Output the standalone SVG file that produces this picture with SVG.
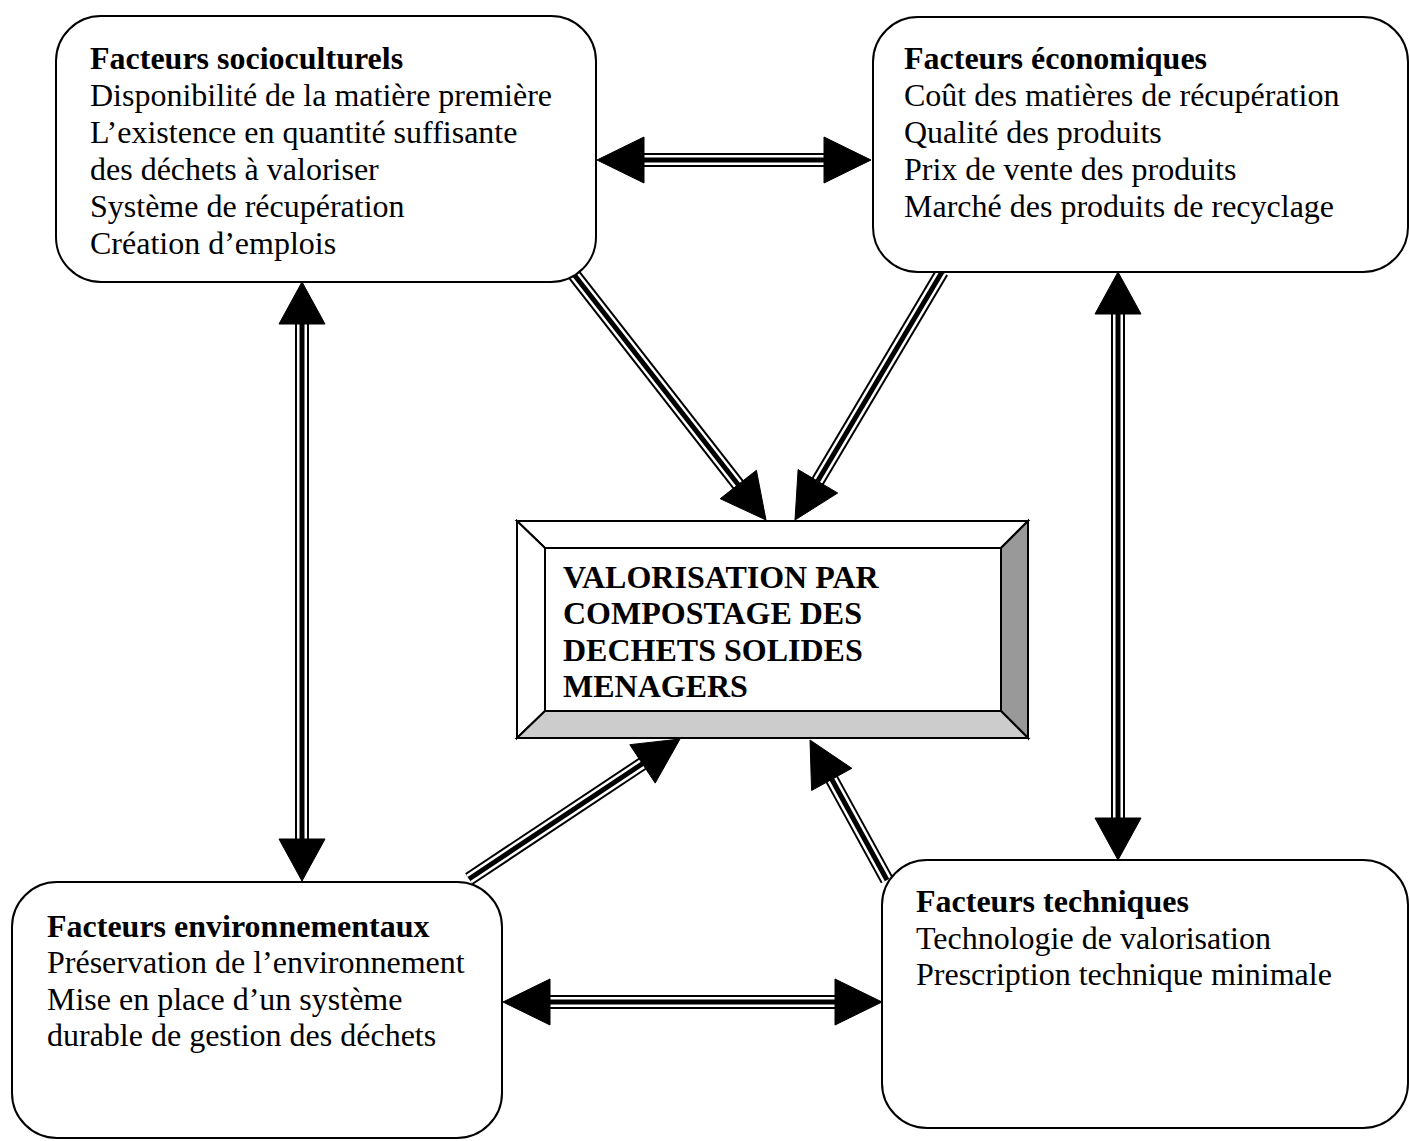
<svg xmlns="http://www.w3.org/2000/svg" width="1410" height="1141" viewBox="0 0 1410 1141">
<style>
.box{fill:#fff;stroke:#000;stroke-width:2}
.t{font-family:"Liberation Serif","Times New Roman",serif;font-size:32px;fill:#000}
.b{font-weight:bold}
.o{stroke:#000;stroke-width:14;fill:none}
.w{stroke:#fff;stroke-width:10;fill:none}
.c{stroke:#000;stroke-width:5;fill:none}
.h{fill:#000;stroke:#000;stroke-width:1}
.bev{stroke:#000;stroke-width:2;stroke-linejoin:miter}
</style>
<rect width="1410" height="1141" fill="#fff"/>
<g id="connectors">
  <!-- top horizontal -->
  <g><path class="o" d="M640 160H828"/><path class="w" d="M640 160H828"/><path class="c" d="M640 160H828"/>
  <polygon class="h" points="597,160 644,137 644,183"/><polygon class="h" points="871,160 824,137 824,183"/></g>
  <!-- bottom horizontal -->
  <g><path class="o" d="M546 1002H840"/><path class="w" d="M546 1002H840"/><path class="c" d="M546 1002H840"/>
  <polygon class="h" points="503,1002 550,979 550,1025"/><polygon class="h" points="882,1002 835,979 835,1025"/></g>
  <!-- left vertical -->
  <g><path class="o" d="M302 320V842"/><path class="w" d="M302 320V842"/><path class="c" d="M302 320V842"/>
  <polygon class="h" points="302,282 279,324 325,324"/><polygon class="h" points="302,881 279,839 325,839"/></g>
  <!-- right vertical -->
  <g><path class="o" d="M1118 310V822"/><path class="w" d="M1118 310V822"/><path class="c" d="M1118 310V822"/>
  <polygon class="h" points="1118,272 1095,314 1141,314"/><polygon class="h" points="1118,860 1095,818 1141,818"/></g>
  <!-- A1 -->
  <g><path class="o" d="M572 272L740 487"/><path class="w" d="M572 272L740 487"/><path class="c" d="M572 272L740 487"/>
  <polygon class="h" points="766,520 720.2,498.7 756.4,470.3"/></g>
  <!-- A2 -->
  <g><path class="o" d="M942 272L816 484"/><path class="w" d="M942 272L816 484"/><path class="c" d="M942 272L816 484"/>
  <polygon class="h" points="795,520 837.7,493 798.1,469.6"/></g>
  <!-- A3 -->
  <g><path class="o" d="M469 879L645 762"/><path class="w" d="M469 879L645 762"/><path class="c" d="M469 879L645 762"/>
  <polygon class="h" points="680,739 655.2,783.1 629.8,744.7"/></g>
  <!-- A4 -->
  <g><path class="o" d="M887 880L830 776"/><path class="w" d="M887 880L830 776"/><path class="c" d="M887 880L830 776"/>
  <polygon class="h" points="810,740 851.8,768.3 811.6,790.5"/></g>
</g>
<g id="socio">
  <rect class="box" x="56" y="16" width="540" height="266" rx="45"/>
  <text class="t b" x="90" y="69">Facteurs socioculturels</text>
  <text class="t" x="90" y="106">Disponibilité de la matière première</text>
  <text class="t" x="90" y="143">L’existence en quantité suffisante</text>
  <text class="t" x="90" y="180">des déchets à valoriser</text>
  <text class="t" x="90" y="217">Système de récupération</text>
  <text class="t" x="90" y="254">Création d’emplois</text>
</g>
<g id="eco">
  <rect class="box" x="873" y="17" width="535" height="255" rx="45"/>
  <text class="t b" x="904" y="69">Facteurs économiques</text>
  <text class="t" x="904" y="106">Coût des matières de récupération</text>
  <text class="t" x="904" y="143">Qualité des produits</text>
  <text class="t" x="904" y="180">Prix de vente des produits</text>
  <text class="t" x="904" y="217">Marché des produits de recyclage</text>
</g>
<g id="env">
  <rect class="box" x="12" y="882" width="490" height="256" rx="45"/>
  <text class="t b" x="47" y="937">Facteurs environnementaux</text>
  <text class="t" x="47" y="973">Préservation de l’environnement</text>
  <text class="t" x="47" y="1010">Mise en place d’un système</text>
  <text class="t" x="47" y="1046">durable de gestion des déchets</text>
</g>
<g id="tech">
  <rect class="box" x="882" y="860" width="526" height="268" rx="45"/>
  <text class="t b" x="916" y="912">Facteurs techniques</text>
  <text class="t" x="916" y="949">Technologie de valorisation</text>
  <text class="t" x="916" y="985">Prescription technique minimale</text>
</g>
<g id="center">
  <polygon class="bev" fill="#fff" points="517,521 1028,521 1001,548 545,548"/>
  <polygon class="bev" fill="#fff" points="517,521 545,548 545,711 517,738"/>
  <polygon class="bev" fill="#999" points="1028,521 1028,738 1001,711 1001,548"/>
  <polygon class="bev" fill="#ccc" points="517,738 545,711 1001,711 1028,738"/>
  <rect x="545" y="548" width="456" height="163" fill="#fff" stroke="#000" stroke-width="2"/>
  <text class="t b" x="563" y="588">VALORISATION PAR</text>
  <text class="t b" x="563" y="624">COMPOSTAGE DES</text>
  <text class="t b" x="563" y="661">DECHETS SOLIDES</text>
  <text class="t b" x="563" y="697">MENAGERS</text>
</g>
</svg>
